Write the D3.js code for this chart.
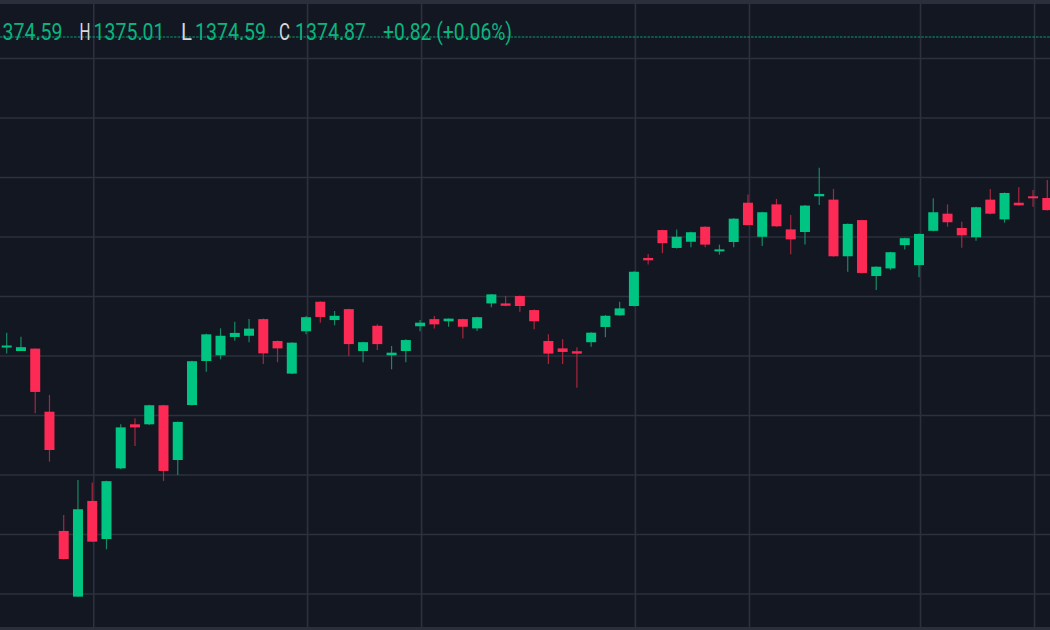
<!DOCTYPE html>
<html>
<head>
<meta charset="utf-8">
<script src="https://cdn.jsdelivr.net/npm/d3@7"></script>
<style>
  html, body { margin: 0; padding: 0; background: #131722; overflow: hidden; }
  svg { display: block; }
</style>
</head>
<body>
<div id="chart"></div>
<script>
const width = 1050;
const height = 630;

// daily candles
const opens = [1361.92, 1361.71, 1361.81, 1359.16, 1354.15, 1351.39, 1355.41, 1353.81, 1356.78, 1358.63,
  1358.63, 1359.43, 1357.13, 1359.44, 1361.29, 1361.53, 1362.30, 1362.35, 1363.05, 1362.13,
  1360.76, 1362.54, 1363.78, 1363.01, 1363.47, 1361.71, 1362.77, 1361.53, 1361.71, 1362.75,
  1363.05, 1362.96, 1363.05, 1362.66, 1363.71, 1363.71, 1364.02, 1363.43, 1362.13, 1361.82,
  1361.70, 1362.08, 1362.72, 1363.21, 1363.60, 1365.62, 1366.79, 1366.04, 1366.30, 1366.93,
  1365.92, 1366.29, 1367.94, 1366.51, 1367.87, 1366.82, 1366.71, 1368.21, 1368.07, 1365.69,
  1367.21, 1364.86, 1365.18, 1366.16, 1365.32, 1366.76, 1367.48, 1366.88, 1366.49, 1368.07,
  1367.24, 1367.94, 1368.21, 1368.14];
const highs = [1362.48, 1362.31, 1361.83, 1359.86, 1354.82, 1356.29, 1356.18, 1356.26, 1358.63, 1358.88,
  1359.45, 1359.45, 1358.75, 1361.30, 1362.43, 1362.66, 1362.94, 1363.05, 1363.08, 1362.15,
  1362.08, 1363.18, 1363.80, 1363.39, 1363.49, 1362.10, 1362.83, 1361.92, 1362.20, 1363.01,
  1363.18, 1363.08, 1363.07, 1363.15, 1364.11, 1364.02, 1364.04, 1363.45, 1362.41, 1362.20,
  1361.87, 1362.50, 1363.22, 1363.78, 1365.06, 1365.79, 1366.81, 1366.82, 1366.72, 1366.95,
  1366.18, 1367.29, 1368.29, 1367.56, 1368.10, 1367.42, 1367.84, 1369.41, 1368.52, 1367.07,
  1367.23, 1365.27, 1365.88, 1366.47, 1366.65, 1368.13, 1367.87, 1367.14, 1367.77, 1368.52,
  1368.37, 1368.59, 1368.47, 1368.89];
const lows = [1361.61, 1361.71, 1359.09, 1357.06, 1352.95, 1351.37, 1353.68, 1353.38, 1356.74, 1357.72,
  1358.60, 1356.25, 1356.50, 1359.42, 1360.84, 1361.36, 1362.14, 1362.08, 1361.16, 1361.24,
  1360.74, 1362.41, 1362.90, 1362.79, 1361.50, 1361.24, 1361.75, 1360.94, 1361.24, 1362.54,
  1362.66, 1362.73, 1362.24, 1362.55, 1363.55, 1363.59, 1363.36, 1362.62, 1361.16, 1361.16,
  1360.17, 1361.89, 1362.29, 1363.19, 1363.58, 1365.34, 1365.82, 1366.02, 1366.07, 1366.07,
  1365.76, 1366.07, 1366.98, 1366.12, 1366.93, 1365.77, 1366.19, 1367.84, 1365.67, 1365.04,
  1364.97, 1364.27, 1365.11, 1365.98, 1364.81, 1366.74, 1366.93, 1366.05, 1366.34, 1367.46,
  1367.10, 1367.81, 1367.77, 1367.61];
const closes = [1361.94, 1361.87, 1359.99, 1357.55, 1352.97, 1355.06, 1353.70, 1356.24, 1358.50, 1358.50,
  1359.43, 1356.67, 1358.73, 1361.28, 1362.41, 1362.35, 1362.47, 1362.65, 1361.61, 1361.82,
  1362.06, 1363.13, 1363.14, 1363.19, 1362.00, 1362.08, 1362.00, 1361.64, 1362.17, 1362.90,
  1362.83, 1363.07, 1362.73, 1363.13, 1364.09, 1363.61, 1363.60, 1362.96, 1361.60, 1361.67,
  1361.60, 1362.48, 1363.19, 1363.50, 1365.04, 1365.52, 1366.24, 1366.51, 1366.70, 1366.18,
  1365.98, 1367.27, 1367.00, 1367.54, 1366.95, 1366.40, 1367.82, 1368.31, 1365.69, 1367.05,
  1364.99, 1365.25, 1365.86, 1366.45, 1366.63, 1367.54, 1367.12, 1366.57, 1367.75, 1367.48,
  1368.35, 1367.83, 1368.13, 1367.63];

// price grid levels and the candle indexes where the time grid falls
const priceTicks = [1374, 1371.5, 1369, 1366.5, 1364, 1361.5, 1359, 1356.5, 1354, 1351.5];
const timeGridIdx = [6, 21, 29, 44, 52, 64, 72];

// legend; the open value is half scrolled off to the left
const legendLabels = ["H", "L", "C"];
const legendValues = ["1374.59", "1375.01", "1374.59", "1374.87"];
const legendChange = "+0.82 (+0.06%)";
const lastPrice = 1374.87;

const upColor = "#00c582";
const downColor = "#fc2a54";
const upWick = "#178a63";
const downWick = "#a8273f";
const gridColor = "#2d313d";

const data = opens.map((o, i) => ({ i, o, h: highs[i], l: lows[i], c: closes[i] }));

const x = d3.scaleLinear()
  .domain([0, data.length - 1])
  .range([6.7, 1047.3]);

const y = d3.scaleLinear()
  .domain([1374, 1351.5])
  .range([58.5, 594]);

const svg = d3.select("#chart")
  .append("svg")
  .attr("width", width)
  .attr("height", height)
  .attr("viewBox", [0, 0, width, height]);

svg.append("rect")
  .attr("width", width)
  .attr("height", height)
  .attr("fill", "#131722");

// grid
svg.append("g")
  .selectAll("line")
  .data(priceTicks)
  .join("line")
  .attr("x1", 0)
  .attr("x2", width)
  .attr("y1", d => y(d))
  .attr("y2", d => y(d))
  .attr("stroke", gridColor)
  .attr("stroke-width", 1.6);

svg.append("g")
  .selectAll("line")
  .data(timeGridIdx)
  .join("line")
  .attr("x1", d => x(d) + 1.5)
  .attr("x2", d => x(d) + 1.5)
  .attr("y1", 0)
  .attr("y2", height)
  .attr("stroke", gridColor)
  .attr("stroke-width", 1.6);

// top and bottom pane borders
svg.append("rect").attr("x", 0).attr("y", 0).attr("width", width).attr("height", 4).attr("fill", "#2b2f3b");
svg.append("rect").attr("x", 0).attr("y", 627).attr("width", width).attr("height", 3).attr("fill", "#2b2f3b");

// candles
const candles = svg.append("g")
  .selectAll("g")
  .data(data)
  .join("g");

candles.append("line")
  .attr("x1", d => x(d.i))
  .attr("x2", d => x(d.i))
  .attr("y1", d => y(d.h))
  .attr("y2", d => y(d.l))
  .attr("stroke", d => d.c >= d.o ? upWick : downWick)
  .attr("stroke-width", 1.2);

candles.append("rect")
  .attr("x", d => x(d.i) - 5)
  .attr("width", 10)
  .attr("y", d => y(Math.max(d.o, d.c)))
  .attr("height", d => Math.max(2, Math.abs(y(d.o) - y(d.c))))
  .attr("fill", d => d.c >= d.o ? upColor : downColor);

// last price line
svg.append("line")
  .attr("x1", 0)
  .attr("x2", width)
  .attr("y1", y(lastPrice) - 0.8)
  .attr("y2", y(lastPrice) - 0.8)
  .attr("stroke", "#0e9a70")
  .attr("stroke-width", 1.2)
  .attr("stroke-dasharray", "2.5,1.2");

// legend
const labelX = [79.5, 181, 279];
const valueX = [-8.5, 93.5, 195, 295];
const legend = svg.append("g")
  .attr("font-family", "Roboto, 'Noto Sans', sans-serif")
  .attr("font-size", 23);

legend.selectAll(".lbl")
  .data(legendLabels)
  .join("text")
  .attr("class", "lbl")
  .attr("x", (d, i) => labelX[i])
  .attr("y", 39.5)
  .attr("fill", "#d6d8de")
  .attr("textLength", 11)
  .attr("lengthAdjust", "spacingAndGlyphs")
  .text(d => d);

legend.selectAll(".val")
  .data(legendValues)
  .join("text")
  .attr("class", "val")
  .attr("x", (d, i) => valueX[i])
  .attr("y", 39.5)
  .attr("fill", "#0ab47e")
  .attr("textLength", 71)
  .attr("lengthAdjust", "spacingAndGlyphs")
  .text(d => d);

legend.append("text")
  .attr("x", 383)
  .attr("y", 39.5)
  .attr("fill", "#0ab47e")
  .attr("textLength", 129)
  .attr("lengthAdjust", "spacingAndGlyphs")
  .text(legendChange);
</script>
</body>
</html>
